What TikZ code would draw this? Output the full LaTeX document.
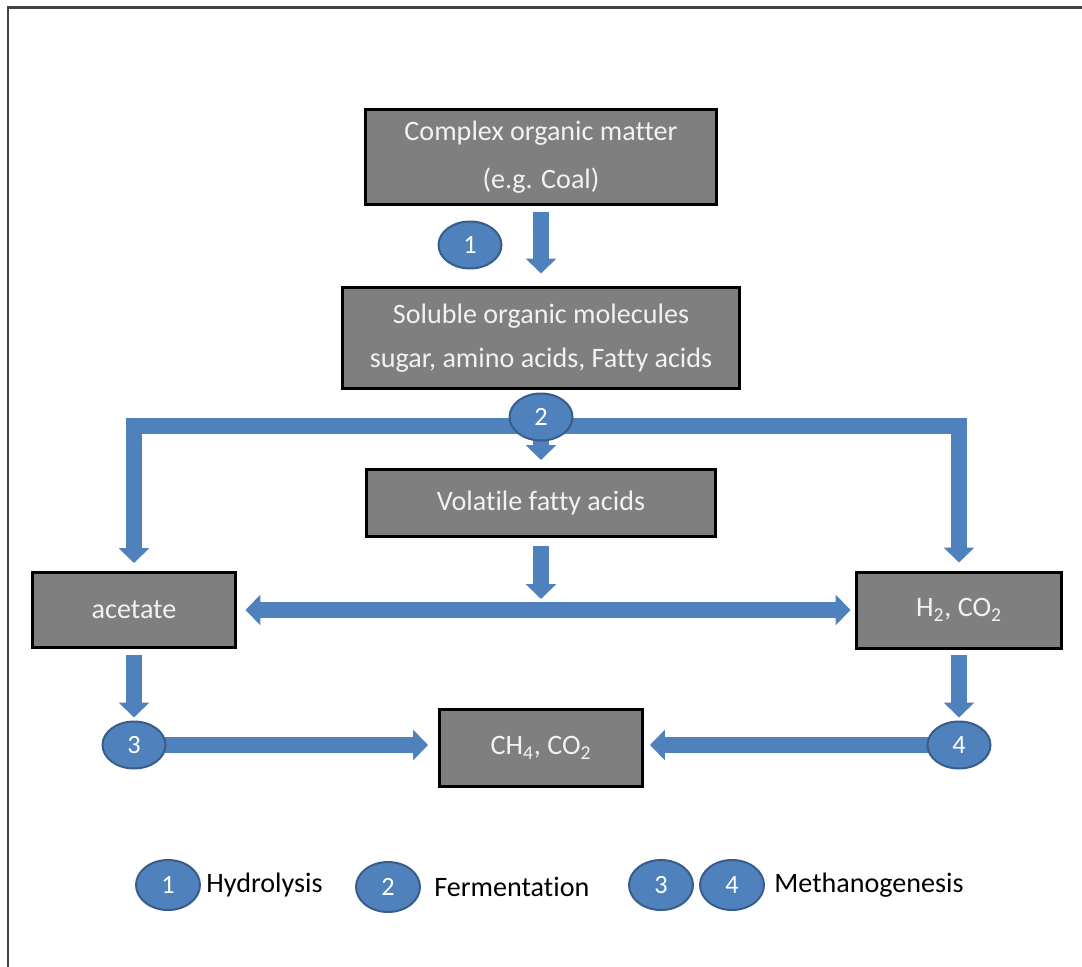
\documentclass[tikz,border=0pt]{standalone}
\usepackage{fontspec}
\setmainfont{Carlito}[Ligatures=NoCommon]
\usetikzlibrary{arrows.meta,shapes.geometric,backgrounds}
\definecolor{flowBlue}{HTML}{4F81BD}
\definecolor{flowBlueDark}{HTML}{385D8A}
\definecolor{boxGray}{HTML}{7F7F7F}
\definecolor{boxText}{HTML}{F2F2F2}
\definecolor{frameGray}{HTML}{444444}

\begin{document}
\begin{tikzpicture}[
  x=0.02cm,
  y=-0.02cm,
  >={Triangle[width=0.6cm,length=0.3cm]},
  flow/.style={->, line width=0.32cm, draw=flowBlue},
  bothflow/.style={<->, line width=0.32cm, draw=flowBlue},
  box/.style={
    draw=black,
    line width=0.06cm,
    fill=boxGray,
    text=boxText,
    align=center,
    inner sep=0pt,
    font=\fontsize{16}{25}\selectfont
  },
  stage/.style={
    ellipse,
    draw=flowBlueDark,
    line width=0.04cm,
    fill=flowBlue,
    text=white,
    inner sep=0pt,
    minimum width=1.26cm,
    minimum height=0.94cm,
    font=\fontsize{15}{18}\selectfont
  },
  legstage/.style={stage, minimum width=1.28cm, minimum height=1.0cm},
  legtext/.style={anchor=west, inner sep=0pt, font=\fontsize{16}{20}\selectfont}
]
\useasboundingbox (0,0) rectangle (1082,967);
\draw[line width=0.06cm, draw=frameGray] (8,967) -- (8,7) -- (1082,7);

\node[box, minimum width=7.02cm, minimum height=1.9cm]  (complex)  at (541,157) {Complex organic matter\\[2pt](e.g. Coal)};
\node[box, minimum width=7.96cm, minimum height=2.04cm] (soluble)  at (541,338) {Soluble organic molecules\\sugar, amino acids, Fatty acids};
\node[box, minimum width=7.0cm,  minimum height=1.34cm] (vfa)      at (541,503) {Volatile fatty acids};
\node[box, minimum width=4.08cm, minimum height=1.5cm]  (acetate)  at (134,610) {acetate};
\node[box, minimum width=4.12cm, minimum height=1.52cm] (hydrogen) at (959,610) {H\textsubscript{2}, CO\textsubscript{2}};
\node[box, minimum width=4.06cm, minimum height=1.54cm] (methane)  at (541,748) {CH\textsubscript{4}, CO\textsubscript{2}};

\node[stage] (hydro) at (470,245) {1};
\node[stage] (ferm)  at (541,417) {2};
\node[stage] (methA) at (134,745) {3};
\node[stage] (methB) at (959,745) {4};

\begin{scope}[on background layer]
\coordinate (fork)  at (541,426);
\coordinate (split) at (541,599);
\draw[flow, shorten <=0.12cm, shorten >=0.24cm] (complex) -- (soluble);
\draw[flow, shorten >=0.16cm] (fork) -| (acetate.north);
\draw[flow, shorten >=0.16cm] (fork) -| (hydrogen.north);
\draw[flow, shorten >=0.16cm] (fork) -- (vfa.north);
\draw[flow, shorten <=0.16cm] (vfa.south) -- (split);
\draw[bothflow, shorten <=0.16cm, shorten >=0.08cm] (acetate.east) -- (hydrogen.west);
\draw[flow, shorten <=0.12cm, shorten >=0.06cm] (acetate.south) -- (methA.north);
\draw[flow, shorten <=0.12cm, shorten >=0.06cm] (hydrogen.south) -- (methB.north);
\draw[flow, shorten >=0.2cm] (methA.center) -- (methA.center -| methane.west);
\draw[flow, shorten >=0.12cm] (methB.center) -- (methB.center -| methane.east);
\end{scope}

\node[legstage] (legA) at (168,885) {1};
\node[legtext]  (legAtext) at (206,885) {Hydrolysis};
\node[legstage] (legB) at (388,887) {2};
\node[legtext]  (legBtext) at (434,887) {Fermentation};
\node[legstage] (legC) at (661,885) {3};
\node[legstage] (legD) at (732,885) {4};
\node[legtext]  (legDtext) at (774,885) {Methanogenesis};
\end{tikzpicture}
\end{document}
